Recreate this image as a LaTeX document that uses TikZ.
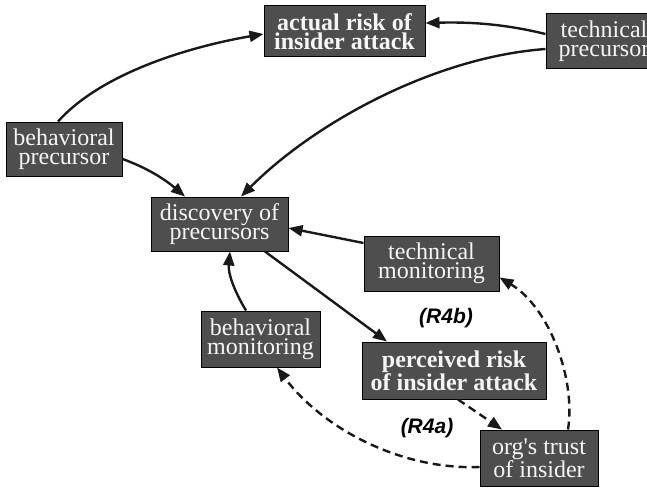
\documentclass[tikz,border=0pt]{standalone}
\usepackage{fontspec}
\setmainfont{Liberation Serif}
\newfontfamily\labfont{Liberation Sans}
\usetikzlibrary{arrows.meta}
\definecolor{boxfill}{RGB}{78,78,78}
\definecolor{boxtext}{RGB}{245,245,245}
\tikzset{
  var/.style={draw=black, line width=1pt, fill=boxfill, text=boxtext, inner sep=0pt,
    align=center, font=\fontsize{24}{19}\selectfont},
  varb/.style={var, font=\fontsize{24}{19}\selectfont\bfseries},
  link/.style={line width=2.4pt, draw={rgb,255:red,25;green,25;blue,25},
    -{Triangle[length=14pt,width=11pt]}},
  dlink/.style={link, dash pattern=on 8pt off 5pt},
  looplab/.style={font=\fontsize{21}{21}\labfont\bfseries\itshape, text=black}
}
\begin{document}
\begin{tikzpicture}[x=1pt,y=-1pt]
\useasboundingbox (0,0) rectangle (647,487);
% nodes
\node[varb, minimum width=161pt, minimum height=51pt] (actual) at (344.5,31.5) {actual risk of\\insider attack};
\node[var, minimum width=116pt, minimum height=54pt] (techprec) at (604,41) {technical\\precursor};
\node[var, minimum width=116pt, minimum height=54pt] (behprec) at (64,149) {behavioral\\precursor};
\node[var, minimum width=137pt, minimum height=54pt] (disc) at (219.5,224) {discovery of\\precursors};
\node[var, minimum width=135pt, minimum height=55pt] (techmon) at (431.5,263.5) {technical\\monitoring};
\node[var, minimum width=119pt, minimum height=56pt] (behmon) at (260.5,339) {behavioral\\monitoring};
\node[varb, minimum width=184pt, minimum height=57pt] (perc) at (454,370.5) {perceived risk\\of insider attack};
\node[var, minimum width=118pt, minimum height=56pt] (trust) at (539,458) {org\textquotesingle s trust\\of insider};
\node[looplab] (r4b) at (446,318) {(R4b)};
\node[looplab] (r4a) at (427,428) {(R4a)};
% solid links
\draw[link] ([xshift=-6pt]behprec.north) .. controls +(45,-50) and +(-70,12) .. ([yshift=-2.5pt]actual.west);
\draw[link] ([yshift=7pt]techprec.west) .. controls +(-45,-11) and +(40,-1) .. ([yshift=8.5pt]actual.east);
\draw[link] ([yshift=-8pt]techprec.west) .. controls +(-110,8) and +(75,-75) .. ([xshift=21.5pt]disc.north);
\draw[link] ([yshift=-10pt]behprec.east) .. controls +(25,9) and +(-20,-17) .. ([xshift=-34.5pt]disc.north);
\draw[link] ([yshift=20.5pt]techmon.west) -- ([yshift=-4pt]disc.east);
\draw[link] ([xshift=-14.5pt]behmon.north) .. controls +(-12,-20) and +(-2,22) .. ([xshift=10.5pt]disc.south);
\draw[link] ([xshift=45.5pt]disc.south) -- ([xshift=-67pt]perc.north);
% dashed links
\draw[dlink] ([xshift=4pt]perc.south) -- ([xshift=-37pt]trust.north);
\draw[dlink] ([yshift=-9pt]trust.west) .. controls +(-80,3) and +(45,60) .. ([xshift=16.5pt]behmon.south);
\draw[dlink] ([xshift=29pt]trust.north) .. controls +(8,-50) and +(50,30) .. ([yshift=-14pt]techmon.east);
\end{tikzpicture}
\end{document}
